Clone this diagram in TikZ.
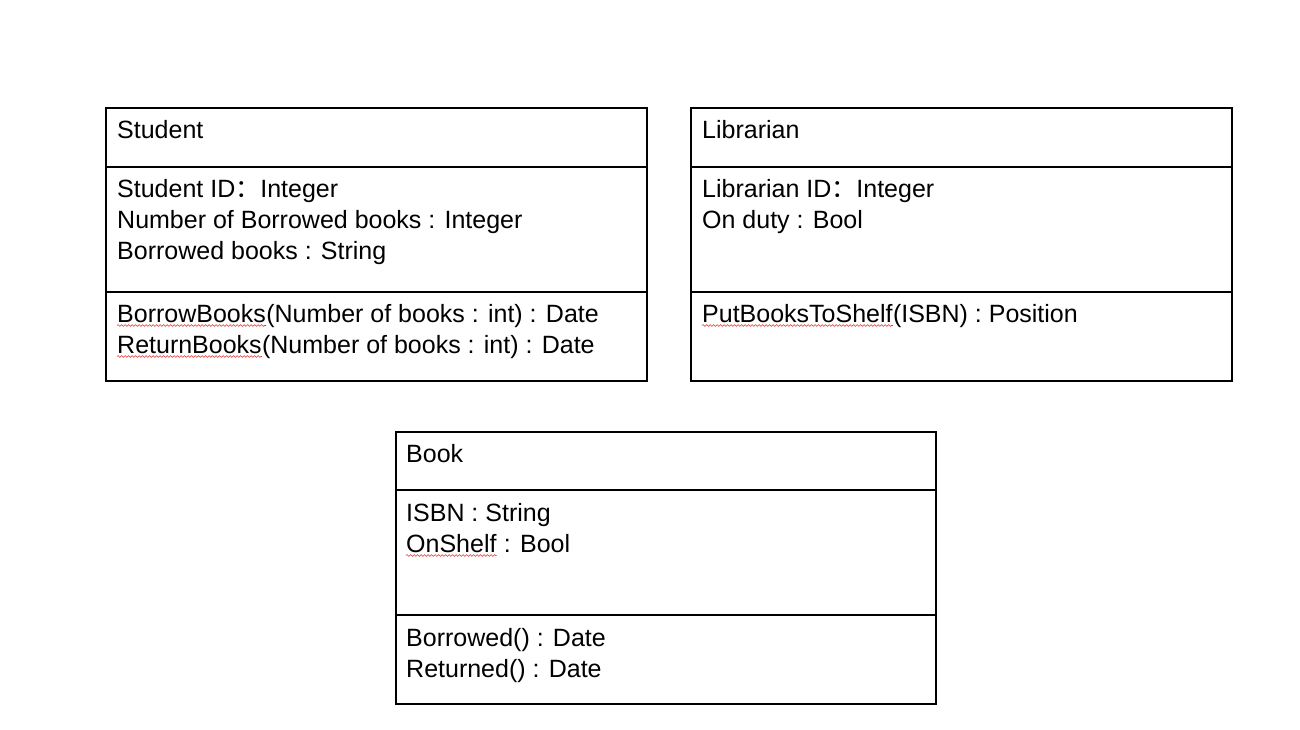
\documentclass[tikz,border=0pt]{standalone}
\usepackage{fontspec}
\setmainfont{Liberation Sans}
\newfontfamily\cjk{Noto Sans CJK SC}
\usetikzlibrary{decorations.pathmorphing}
\definecolor{spell}{RGB}{225,50,50}
\tikzset{
  box/.style={draw=black, line width=1.1pt},
  sep/.style={draw=black, line width=1.1pt},
  txt/.style={anchor=base west, inner sep=0pt, font=\fontsize{25}{29}\selectfont, text=black},
  wavy/.style={draw=spell, line width=0.6pt, decorate, decoration={snake, amplitude=0.9pt, segment length=3.5pt}}
}
\begin{document}
\begin{tikzpicture}[x=1pt,y=-1pt]
\useasboundingbox (0,0) rectangle (1300,729);
% Student
\draw[box] (106,108) rectangle (647,381);
\draw[sep] (106,167) -- (647,167);
\draw[sep] (106,292) -- (647,292);
\node[txt] (st) at (117,138) {Student};
\node[txt] (sa1) at (117,197) {Student ID{\cjk ：}Integer};
\node[txt] (sa2) at (117,228) {Number of Borrowed books : Integer};
\node[txt] (sa3) at (117,259) {Borrowed books : String};
\node[txt] (sm1) at (117,322) {BorrowBooks};
\node[txt] (sm1b) at (sm1.base east) {(Number of books : int) : Date};
\node[txt] (sm2) at (117,353) {ReturnBooks};
\node[txt] (sm2b) at (sm2.base east) {(Number of books : int) : Date};
\draw[wavy] ([yshift=-3.5pt]sm1.base west) -- ([yshift=-3.5pt]sm1.base east);
\draw[wavy] ([yshift=-3.5pt]sm2.base west) -- ([yshift=-3.5pt]sm2.base east);
% Librarian
\draw[box] (691,108) rectangle (1232,381);
\draw[sep] (691,167) -- (1232,167);
\draw[sep] (691,292) -- (1232,292);
\node[txt] (lt) at (702,138) {Librarian};
\node[txt] (la1) at (702,197) {Librarian ID{\cjk ：}Integer};
\node[txt] (la2) at (702,228) {On duty : Bool};
\node[txt] (lm1) at (702,322) {PutBooksToShelf};
\node[txt] (lm1b) at (lm1.base east) {(ISBN) : Position};
\draw[wavy] ([yshift=-3.5pt]lm1.base west) -- ([yshift=-3.5pt]lm1.base east);
% Book
\draw[box] (396,432) rectangle (936,704);
\draw[sep] (396,490) -- (936,490);
\draw[sep] (396,615) -- (936,615);
\node[txt] (bt) at (406,462) {Book};
\node[txt] (ba1) at (406,521) {ISBN : String};
\node[txt] (ba2) at (406,552) {OnShelf};
\node[txt] (ba2b) at (ba2.base east) {\ : Bool};
\draw[wavy] ([yshift=-3.5pt]ba2.base west) -- ([yshift=-3.5pt]ba2.base east);
\node[txt] (bm1) at (406,646) {Borrowed() : Date};
\node[txt] (bm2) at (406,677) {Returned() : Date};
\end{tikzpicture}
\end{document}
